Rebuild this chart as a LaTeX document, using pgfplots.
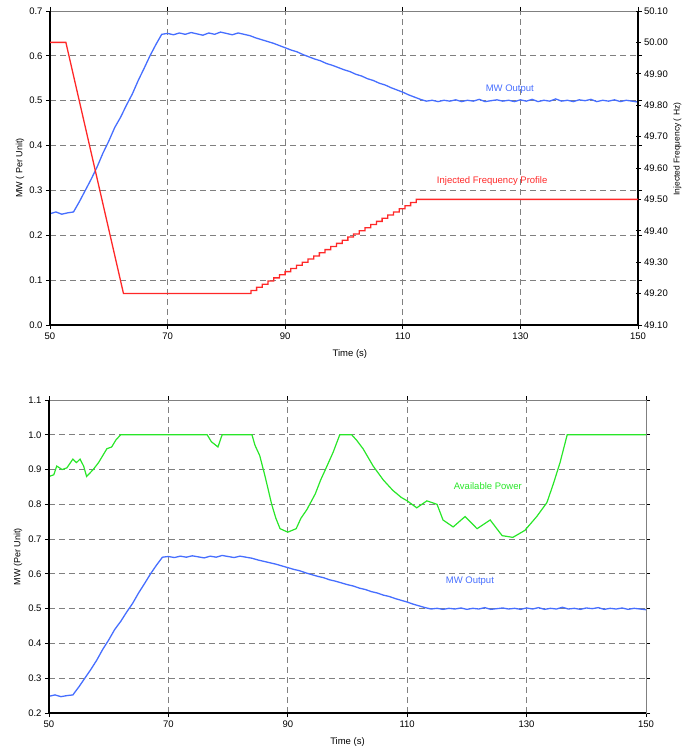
\documentclass[border=0pt]{standalone}
\usepackage{fontspec}
\setmainfont{Liberation Sans}
\usepackage{pgfplots}
\usepackage{pgfplotstable}
\pgfplotsset{compat=1.18}

\definecolor{mwblue}{RGB}{70,110,255}
\definecolor{freqred}{RGB}{255,40,40}
\definecolor{powgreen}{RGB}{40,230,40}
\definecolor{gridgray}{RGB}{128,128,128}

% MW output (per unit)
\pgfplotstableread{
t v
50 0.248
51 0.252
52 0.247
53 0.250
54 0.252
55 0.275
56 0.300
57 0.325
58 0.352
59 0.383
60 0.410
61 0.440
62 0.463
63 0.490
64 0.515
65 0.545
66 0.572
67 0.600
68 0.625
69 0.648
70 0.650
71 0.647
72 0.651
73 0.648
74 0.652
75 0.649
76 0.646
77 0.651
78 0.648
79 0.653
80 0.650
81 0.647
82 0.651
83 0.648
84 0.645
85 0.640
86 0.636
87 0.632
88 0.628
89 0.623
90 0.618
91 0.613
92 0.609
93 0.603
94 0.598
95 0.593
96 0.589
97 0.583
98 0.579
99 0.574
100 0.569
101 0.565
102 0.559
103 0.555
104 0.549
105 0.545
106 0.539
107 0.535
108 0.529
109 0.524
110 0.519
111 0.513
112 0.508
113 0.503
114 0.499
115 0.501
116 0.498
117 0.501
118 0.499
119 0.502
120 0.498
121 0.501
122 0.499
123 0.503
124 0.498
125 0.500
126 0.502
127 0.499
128 0.501
129 0.498
130 0.502
131 0.499
132 0.503
133 0.498
134 0.501
135 0.499
136 0.504
137 0.499
138 0.501
139 0.498
140 0.502
141 0.500
142 0.503
143 0.498
144 0.501
145 0.499
146 0.502
147 0.498
148 0.501
149 0.499
150 0.497
}\mwdata

% injected frequency profile (Hz), steps written out
\pgfplotstableread{
t f
50.00 50.00
52.70 50.00
62.50 49.20
83.20 49.20
84.17 49.20
84.17 49.21
85.14 49.21
85.14 49.22
86.11 49.22
86.11 49.23
87.08 49.23
87.08 49.24
88.05 49.24
88.05 49.25
89.02 49.25
89.02 49.26
89.99 49.26
89.99 49.27
90.96 49.27
90.96 49.28
91.93 49.28
91.93 49.29
92.90 49.29
92.90 49.30
93.87 49.30
93.87 49.31
94.84 49.31
94.84 49.32
95.81 49.32
95.81 49.33
96.78 49.33
96.78 49.34
97.75 49.34
97.75 49.35
98.72 49.35
98.72 49.36
99.69 49.36
99.69 49.37
100.66 49.37
100.66 49.38
101.63 49.38
101.63 49.39
102.60 49.39
102.60 49.40
103.57 49.40
103.57 49.41
104.54 49.41
104.54 49.42
105.51 49.42
105.51 49.43
106.48 49.43
106.48 49.44
107.45 49.44
107.45 49.45
108.42 49.45
108.42 49.46
109.39 49.46
109.39 49.47
110.36 49.47
110.36 49.48
111.33 49.48
111.33 49.49
112.30 49.49
112.30 49.50
150.00 49.50
}\freqdata

% available power (per unit)
\pgfplotstableread{
t p
50 0.88
50.8 0.885
51.3 0.91
52.2 0.90
53 0.905
54 0.93
54.6 0.92
55.2 0.93
55.8 0.91
56.3 0.88
57.4 0.90
58.3 0.92
59 0.94
59.7 0.96
60.5 0.965
61.2 0.985
62 1.0
76.5 1.0
77.2 0.98
78.3 0.965
79 1.0
84 1.0
84.5 0.97
85.3 0.94
86.2 0.88
87.3 0.80
88 0.76
88.7 0.73
90 0.72
91.4 0.73
92.2 0.76
93.2 0.785
94.6 0.83
95.5 0.87
96.3 0.90
97.6 0.95
98.7 1.0
100.7 1.0
101.5 0.985
102.6 0.96
104.3 0.91
106 0.87
107.6 0.84
109 0.82
110 0.81
111.6 0.79
113.3 0.81
115 0.80
116 0.755
117.7 0.735
119.7 0.765
121.7 0.73
123.9 0.755
125.9 0.71
127.7 0.705
129.7 0.725
131.7 0.765
133.4 0.805
134.5 0.86
135.6 0.92
136.8 1.0
150 1.0
}\powdata

\newcommand{\chartfont}{\fontsize{9.5}{11}\selectfont}

\pgfplotsset{
  base/.style={
    scale only axis,
    anchor=south west,
    xmin=50, xmax=150,
    xtick={50,70,90,110,130,150},
    font=\chartfont,
    /pgf/number format/assume math mode=true,
    axis line style={gridgray, line width=0.8pt},
    tick style={black, line width=0.8pt},
    major tick length=4pt,
    tick align=outside,
    grid=major,
    major grid style={gridgray, line width=0.9pt, dash pattern=on 6pt off 4pt},
    xlabel={Time (s)},
    xlabel style={at={(axis description cs:0.51,-0.092)}, anchor=center},
    ylabel style={anchor=center, font=\fontsize{9}{10}\selectfont},
    yticklabel style={/pgf/number format/.cd, fixed, fixed zerofill, precision=1},
    after end axis/.code={
      \draw[black, line width=1.2pt] (rel axis cs:0,1) -- (rel axis cs:0,0) -- (rel axis cs:1,0);
    },
  },
}

\begin{document}
\begin{tikzpicture}[x=1pt,y=1pt]
\path[use as bounding box] (0,0) rectangle (685,749);

% top chart
\begin{axis}[base,
  at={(50pt,424pt)}, width=588pt, height=314pt,
  ymin=0, ymax=0.7,
  ytick={0,0.1,0.2,0.3,0.4,0.5,0.6,0.7},
  ylabel={MW ( Per Unit)},
  ylabel style={at={(axis description cs:-0.051,0.5)}},
]
\addplot[mwblue, line width=1.3pt] table[x=t, y=v] {\mwdata};
\node[font=\chartfont, text=mwblue] at (axis cs:128.2,0.526) {MW Output};
\node[font=\chartfont, text=freqred] at (axis cs:125.2,0.321) {Injected Frequency Profile};
\end{axis}

\begin{axis}[
  scale only axis, anchor=south west,
  at={(50pt,424pt)}, width=588pt, height=314pt,
  xmin=50, xmax=150,
  ymin=49.1, ymax=50.1,
  axis x line=none,
  axis y line*=right,
  axis line style={black, line width=1.2pt, -},
  tick style={black, line width=0.8pt},
  major tick length=5pt,
  tick align=center,
  font=\chartfont,
  /pgf/number format/assume math mode=true,
  ytick={49.1,49.2,49.3,49.4,49.5,49.6,49.7,49.8,49.9,50.0,50.1},
  yticklabel style={/pgf/number format/.cd, fixed, fixed zerofill, precision=2},
  ylabel={Injected Frequency ( Hz)},
  ylabel style={at={(axis description cs:1.067,0.56)}, anchor=center, font=\fontsize{8.5}{9}\selectfont},
]
\addplot[freqred, line width=1.3pt] table[x=t, y=f] {\freqdata};
\end{axis}

% bottom chart
\begin{axis}[base,
  at={(49pt,36pt)}, width=597pt, height=313pt,
  ymin=0.2, ymax=1.1,
  ytick={0.2,0.3,0.4,0.5,0.6,0.7,0.8,0.9,1.0,1.1},
  ylabel={MW (Per Unit)},
  ylabel style={at={(axis description cs:-0.052,0.5)}},
  xlabel style={at={(axis description cs:0.50,-0.093)}},
]
\addplot[powgreen, line width=1.2pt] table[x=t, y=p] {\powdata};
\addplot[mwblue, line width=1.3pt] table[x=t, y=v] {\mwdata};
\node[font=\chartfont, text=powgreen] at (axis cs:123.5,0.853) {Available Power};
\node[font=\chartfont, text=mwblue] at (axis cs:120.5,0.580) {MW Output};
\end{axis}
\end{tikzpicture}
\end{document}
